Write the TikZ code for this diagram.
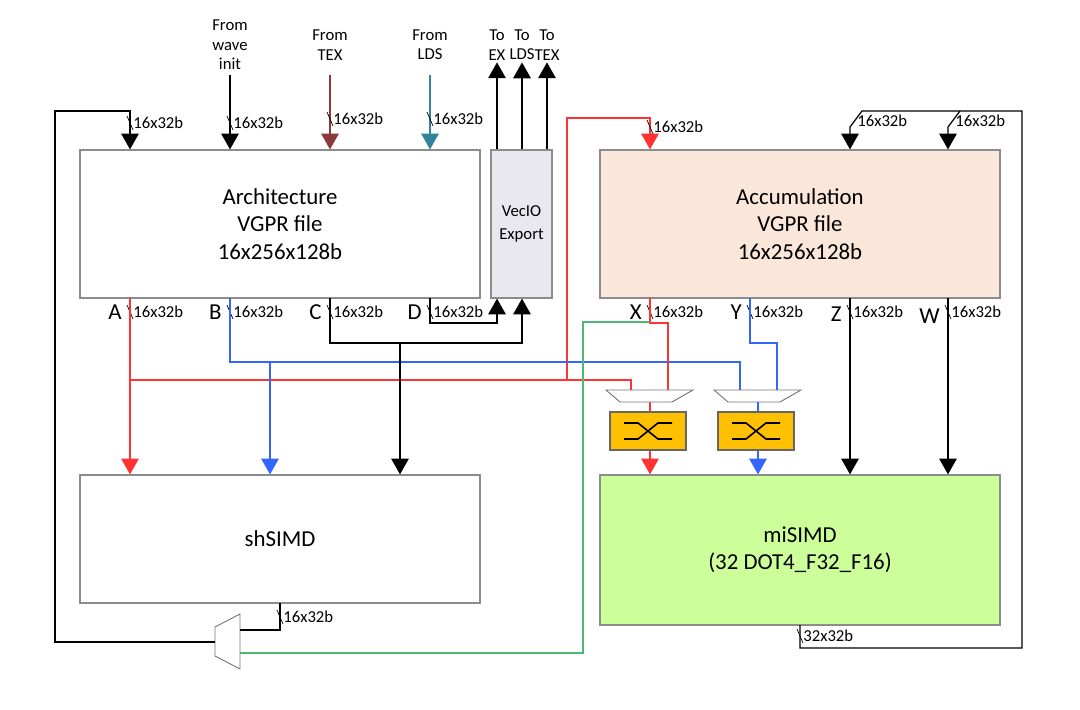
\documentclass[tikz,border=0pt]{standalone}
\usepackage{fontspec}
\setmainfont{Carlito}
\usetikzlibrary{arrows.meta,calc,positioning}
\definecolor{busred}{HTML}{FF3333}
\definecolor{busblue}{HTML}{3366FF}
\definecolor{busgreen}{HTML}{4CB872}
\definecolor{texbrown}{HTML}{8B3A3A}
\definecolor{ldsteal}{HTML}{31849B}
\definecolor{accfill}{HTML}{FBE7DA}
\definecolor{mifill}{HTML}{CCFF99}
\definecolor{viofill}{HTML}{E9E7F0}
\definecolor{xbfill}{HTML}{FFC000}
\newcommand{\busmark}[3]{\draw[black,thin] ($(#1,#2)+(-3,-7)$) -- ($(#1,#2)+(3,7)$); \node[lbl,anchor=west] at ($(#1,#2)+(1,0)$) {#3};}
\begin{document}
\begin{tikzpicture}[x=0.02cm,y=-0.02cm,line width=0.7pt,
  box/.style={draw=black!45,minimum width=8cm,minimum height=2.96cm,align=center,font=\fontsize{13}{15.5}\selectfont},
  lbl/.style={inner sep=1pt,font=\fontsize{9.5}{11}\selectfont},
  let/.style={inner sep=1pt,font=\fontsize{13}{14}\selectfont},
  arr/.style={-{Triangle[width=10pt,length=9pt]}},
  xbar/.style={draw=black!60,fill=xbfill,minimum width=1.52cm,minimum height=0.76cm}]
\useasboundingbox (0,0) rectangle (1080,710);

% boxes
\node[box] (arch) at (280,224) {Architecture\\VGPR file\\16x256x128b};
\node[box,fill=accfill] (acc) at (800,224) {Accumulation\\VGPR file\\16x256x128b};
\node[box,minimum width=1.22cm,fill=viofill,font=\fontsize{9.5}{13}\selectfont] (vio) at (521.5,224) {VecIO\\Export};
\node[box,minimum height=2.56cm] (sh) at (280,539) {shSIMD};
\node[box,minimum height=3cm,fill=mifill] (mi) at (800,550) {miSIMD\\(32 DOT4\_F32\_F16)};

% inputs to architecture file
\node[lbl,align=center] (fwave) at (230,45) {From\\wave\\init};
\node[lbl,align=center] (ftex) at (330,45) {From\\TEX};
\node[lbl,align=center] (flds) at (430,45) {From\\LDS};
\draw[arr] (230,75) -- (230,0 |- arch.north); \busmark{230}{123}{16x32b}
\draw[arr,texbrown] (330,75) -- (330,0 |- arch.north); \busmark{330}{119}{16x32b}
\draw[arr,ldsteal] (430,75) -- (430,0 |- arch.north); \busmark{430}{119}{16x32b}

% VecIO outputs
\foreach \x/\t in {497/EX,522/LDS,547/TEX}{
  \node[lbl,align=center] (to\t) at (\x,45) {To\\\t};
  \draw[arr] (\x,0 |- vio.north) -- (to\t.south);
}

% muxes and crossbars
\foreach \c/\n in {650/1,758/2}{
  \draw[black!55,line width=0.5pt] (\c-44,390) -- (\c+43,390) -- (\c+22,402) -- (\c-30,402) -- cycle;
  \node[xbar] (xb\n) at (\c-2,431) {};
  \draw[line width=0.9pt] ($(xb\n)+(-24,-8)$) -- ($(xb\n)+(-10,-8)$) -- ($(xb\n)+(10,8)$) -- ($(xb\n)+(24,8)$);
  \draw[line width=0.9pt] ($(xb\n)+(-24,8)$) -- ($(xb\n)+(-10,8)$) -- ($(xb\n)+(10,-8)$) -- ($(xb\n)+(24,-8)$);
}
\draw[busred] (650,402) -- (650,0 |- xb1.north); \draw[busblue] (758,402) -- (758,0 |- xb2.north);
\draw[arr,busred] (650,0 |- xb1.south) -- (650,0 |- mi.north);
\draw[arr,busblue] (758,0 |- xb2.south) -- (758,0 |- mi.north);

% A: red
\node[let,anchor=east] at (124,312) {A}; \busmark{130}{312}{16x32b}
\draw[arr,busred] (130,298) -- (130,0 |- sh.north);
\draw[busred] (130,380) -- (631,380) -- (631,390);
\draw[busred,arr] (567,380) -- (567,118) -- (650,118) -- (650,0 |- acc.north); \busmark{650}{127}{16x32b}
% B: blue
\node[let,anchor=east] at (224,312) {B}; \busmark{230}{312}{16x32b}
\draw[busblue] (230,298) -- (230,362) -- (740,362) -- (740,390);
\draw[arr,busblue] (270,362) -- (270,0 |- sh.north);
% C and D: black
\node[let,anchor=east] at (324,312) {C}; \busmark{330}{312}{16x32b}
\draw[arr] (330,298) -- (330,343) -- (522,343) -- (522,0 |- vio.south);
\draw[arr] (400,343) -- (400,0 |- sh.north);
\node[let,anchor=east] at (424,312) {D}; \busmark{430}{312}{16x32b}
\draw[arr] (430,298) -- (430,323) -- (497,323) -- (497,0 |- vio.south);

% X, Y, Z, W
\node[let,anchor=east] at (644,312) {X}; \busmark{650}{312}{16x32b}
\draw[busred] (650,298) -- (650,323) -- (668,323) -- (668,390);
\node[let,anchor=east] at (744,312) {Y}; \busmark{750}{312}{16x32b}
\draw[busblue] (750,298) -- (750,343) -- (777,343) -- (777,390);
\node[let,anchor=east] at (844,314) {Z}; \busmark{850}{312}{16x32b}
\draw[arr] (850,298) -- (850,0 |- mi.north);
\node[let,anchor=east] at (942,316) {W}; \busmark{948}{312}{16x32b}
\draw[arr] (948,298) -- (948,0 |- mi.north);

% miSIMD result loop
\draw[arr] (800,625) -- (800,648) -- (1022,648) -- (1022,111) -- (862,111) -- (850,127) -- (850,0 |- acc.north);
\draw[arr] (960,111) -- (948,127) -- (948,0 |- acc.north);
\node[lbl,anchor=west] at (855,121) {16x32b}; \node[lbl,anchor=west] at (953,121) {16x32b};
\busmark{800}{636}{32x32b}

% shSIMD result mux
\draw[black!55,line width=0.5pt] (215,627) -- (240,614) -- (240,669) -- (215,656) -- cycle;
\coordinate (shmux) at (215,642);
\draw (280,603) -- (280,630) -- (240,630); \busmark{280}{617}{16x32b}
\draw[busgreen] (240,653) -- (583,653) -- (583,322) -- (650,322);
\draw[arr] (shmux) -- (55,642) -- (55,111) -- (130,111) -- (130,0 |- arch.north); \busmark{130}{123}{16x32b}
\end{tikzpicture}
\end{document}
